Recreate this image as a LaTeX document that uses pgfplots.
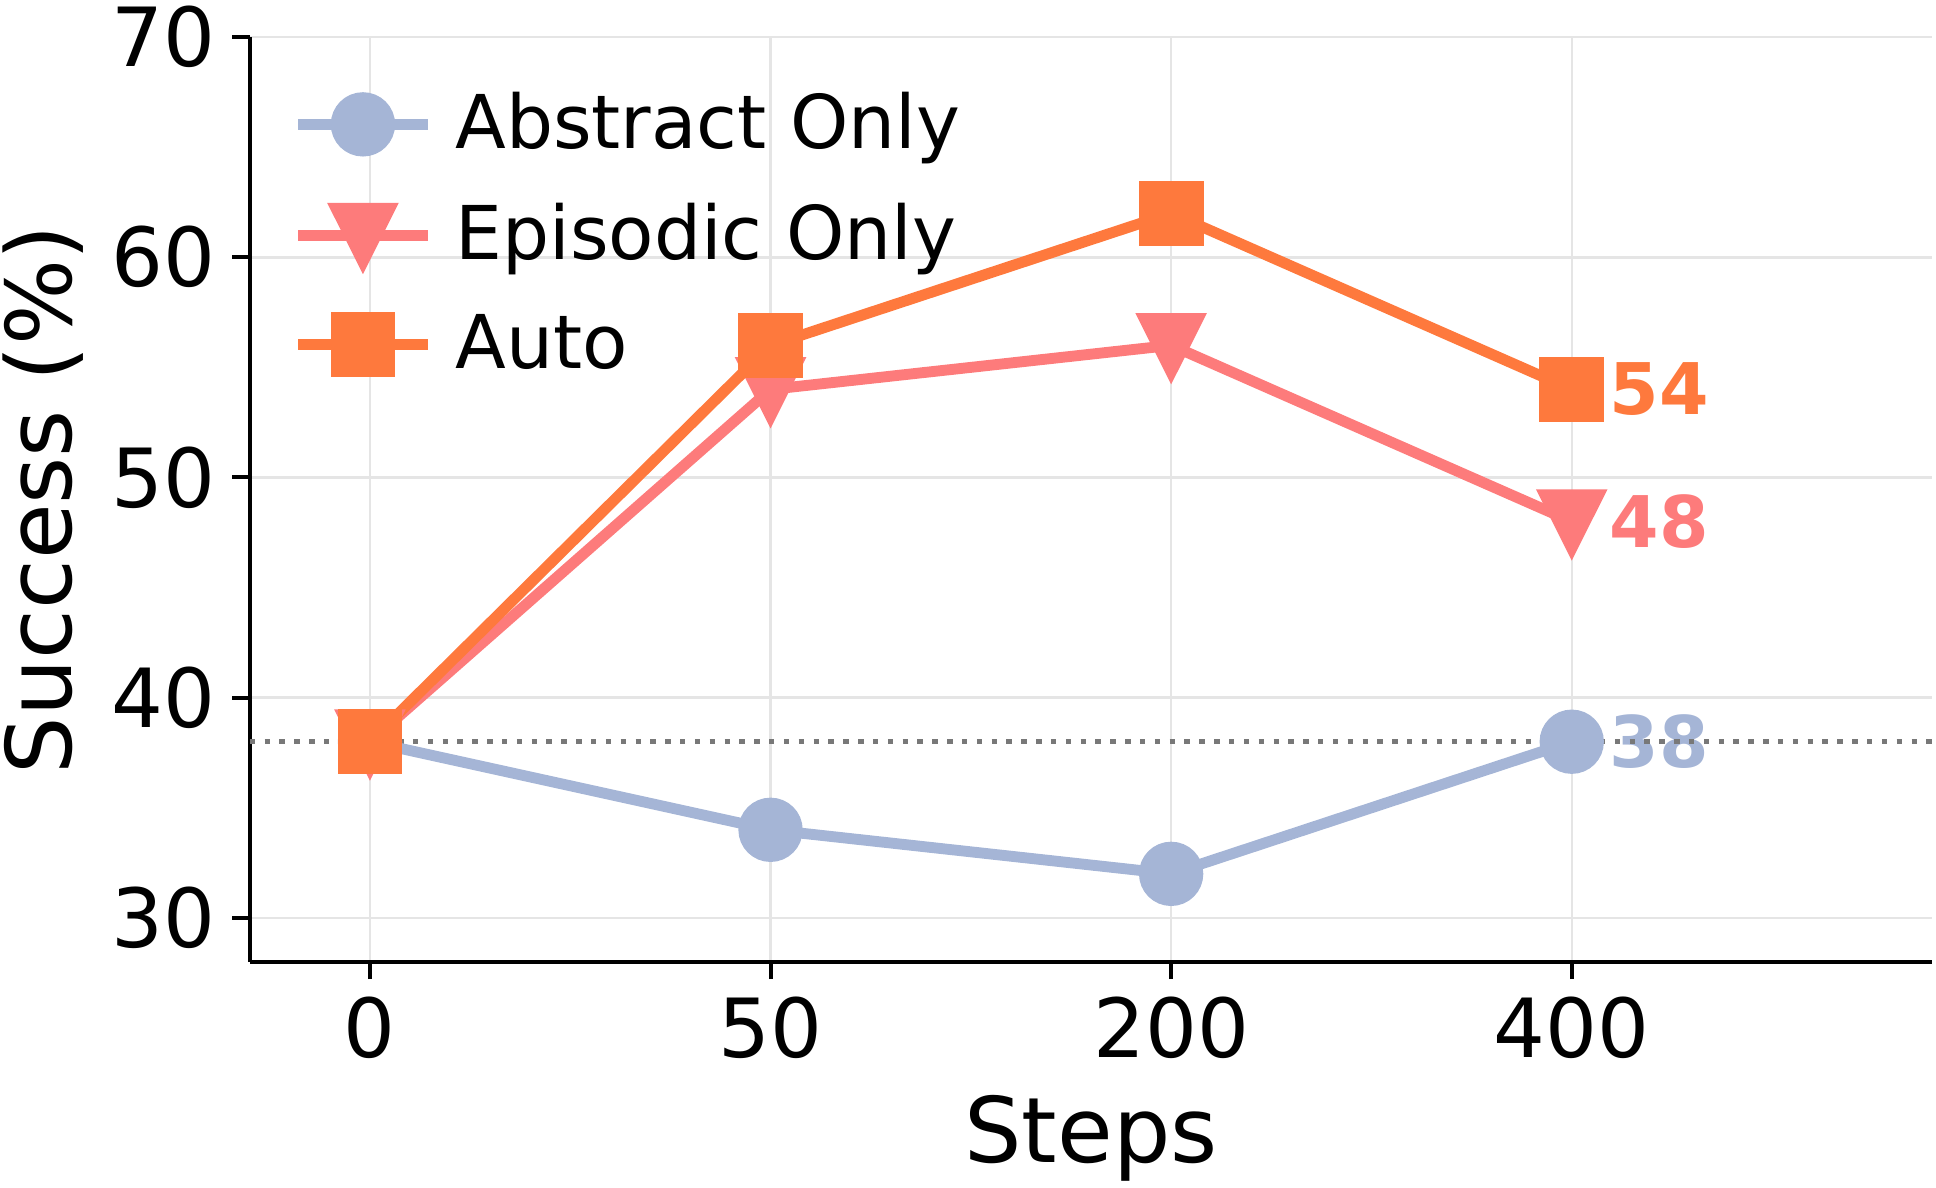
\documentclass[border=0pt]{standalone}
\usepackage{fontspec}
\setmainfont{DejaVu Sans}
\usepackage{pgfplots}
\pgfplotsset{compat=1.18}

\definecolor{abstractc}{RGB}{165,181,214}
\definecolor{episodicc}{RGB}{253,123,123}
\definecolor{autoc}{RGB}{254,121,61}
\definecolor{gridc}{RGB}{229,229,229}

\begin{document}
\begin{tikzpicture}
\begin{axis}[
    scale only axis,
    width=340.2pt, height=187pt,
    xmin=-0.3, xmax=3.9,
    ymin=28, ymax=70,
    axis x line*=bottom, axis y line*=left,
    axis line style={line width=0.8pt, -},
    xtick={0,1,2,3},
    xticklabels={0,50,200,400},
    ytick={30,40,50,60,70},
    tick align=outside,
    major tick length=3.5pt,
    tick style={line width=0.8pt, black},
    grid=major,
    major grid style={gridc, line width=0.5pt},
    /pgf/number format/assume math mode=true,
    ticklabel style={font=\fontsize{16.5}{18}\selectfont},
    xlabel={Steps},
    ylabel={Success (\%)},
    label style={font=\fontsize{18.3}{20}\selectfont},
    ylabel style={at={(axis description cs:-0.1227,0.5)}, anchor=center},
    xlabel style={at={(axis description cs:0.5,0)}, anchor=north, yshift=-23.5pt},
    clip=false,
    legend cell align=left,
    legend style={at={(axis description cs:0,1)}, anchor=north west,
        draw=none, fill=none, xshift=5.5pt, yshift=-7pt,
        font=\fontsize{15}{18}\selectfont, row sep=5.5pt, column sep=2.5pt},
    legend image code/.code={\draw[mark repeat=2, mark phase=2]
        plot coordinates {(0cm,0cm) (0.46cm,0cm) (0.92cm,0cm)};},
]
% value labels at the last step
\node[anchor=west, inner sep=0pt, xshift=7.5pt, text=autoc,
      font=\bfseries\fontsize{14.4}{16}\selectfont] at (axis cs:3,54) {54};
\node[anchor=west, inner sep=0pt, xshift=7.5pt, text=episodicc,
      font=\bfseries\fontsize{14.4}{16}\selectfont] at (axis cs:3,48) {48};
\node[anchor=west, inner sep=0pt, xshift=7.5pt, text=abstractc,
      font=\bfseries\fontsize{14.4}{16}\selectfont] at (axis cs:3,38) {38};

% baseline at step 0
\addplot[forget plot, color=black!53, line width=1.1pt,
         dash pattern=on 1.1pt off 1.9pt] coordinates {(-0.3,38) (3.9,38)};

\addplot[color=abstractc, line width=2.2pt, mark=*, mark size=5.4pt]
    coordinates {(0,38) (1,34) (2,32) (3,38)};
\addlegendentry{Abstract Only}

\addplot[color=episodicc, line width=2.2pt, mark=triangle*, mark size=6.3pt,
         mark options={yshift=1.8pt, rotate=180, yscale=1.15}]
    coordinates {(0,38) (1,54) (2,56) (3,48)};
\addlegendentry{Episodic Only}

\addplot[color=autoc, line width=2.2pt, mark=square*, mark size=5.45pt]
    coordinates {(0,38) (1,56) (2,62) (3,54)};
\addlegendentry{Auto}

\coordinate (bl) at (rel axis cs:0,0);
\coordinate (tr) at (rel axis cs:1,1);
\end{axis}
\pgfresetboundingbox
\path ([shift={(-50.5pt,-45.65pt)}]bl) rectangle ([shift={(0.75pt,7.5pt)}]tr);
\end{tikzpicture}
\end{document}
